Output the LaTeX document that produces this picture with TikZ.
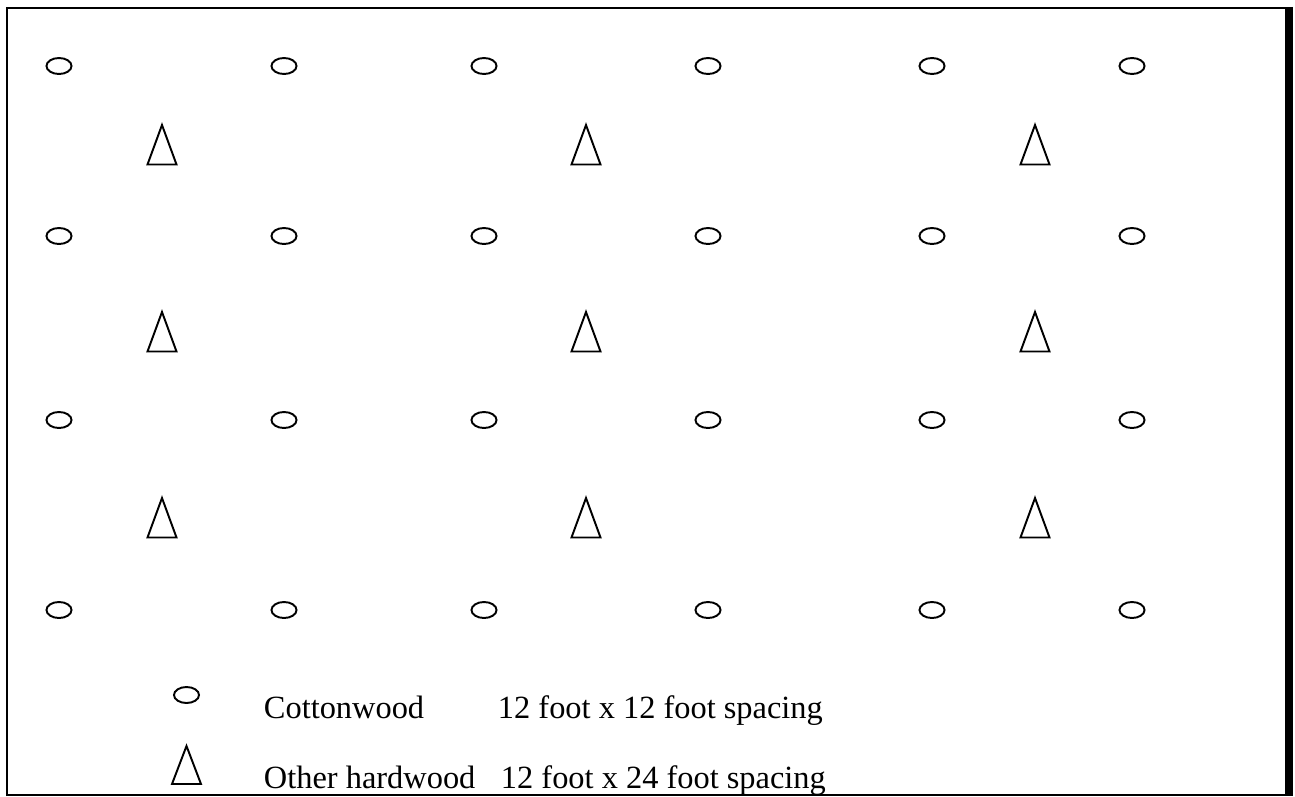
\documentclass[tikz,border=0pt]{standalone}
\usepackage{fontspec}
\setmainfont{Liberation Serif}
\tikzset{
  legendtext/.style={anchor=base west,inner sep=0pt,font=\fontsize{24.3}{29}\selectfont},
  frameline/.style={line width=1.5pt},
}
\begin{document}
\begin{tikzpicture}[x=0.75pt,y=-0.75pt,line width=1.45pt]
\useasboundingbox (0,0) rectangle (1295,796);
\draw[frameline] (7,796) -- (7,7.7) -- (1289,7.7);
\draw[frameline] (7,794.5) -- (1285,794.5);
\draw[line width=6pt] (1289,6.9) -- (1289,796);
\foreach \x in {59,284,484,708,932,1132} {
  \foreach \y in {66,236,420,610} {
    \draw (\x,\y) ellipse (9.4pt and 6pt);
  }
}
\foreach \x in {162,586,1035} {
  \foreach \y in {125,312,498} {
    \draw (\x-14.5,\y+39.5) -- (\x,\y) -- (\x+14.5,\y+39.5) -- cycle;
  }
}
\draw (186.5,695) ellipse (9.4pt and 6pt);
\draw (172,784) -- (186.5,746) -- (201,784) -- cycle;
\node[legendtext] (cottonname) at (263,718) {Cottonwood};
\node[legendtext] (cottonspacing) at (497,718) {12 foot x 12 foot spacing};
\node[legendtext] (hardname) at (263,788) {Other hardwood};
\node[legendtext] (hardspacing) at (500,788) {12 foot x 24 foot spacing};
\end{tikzpicture}
\end{document}
